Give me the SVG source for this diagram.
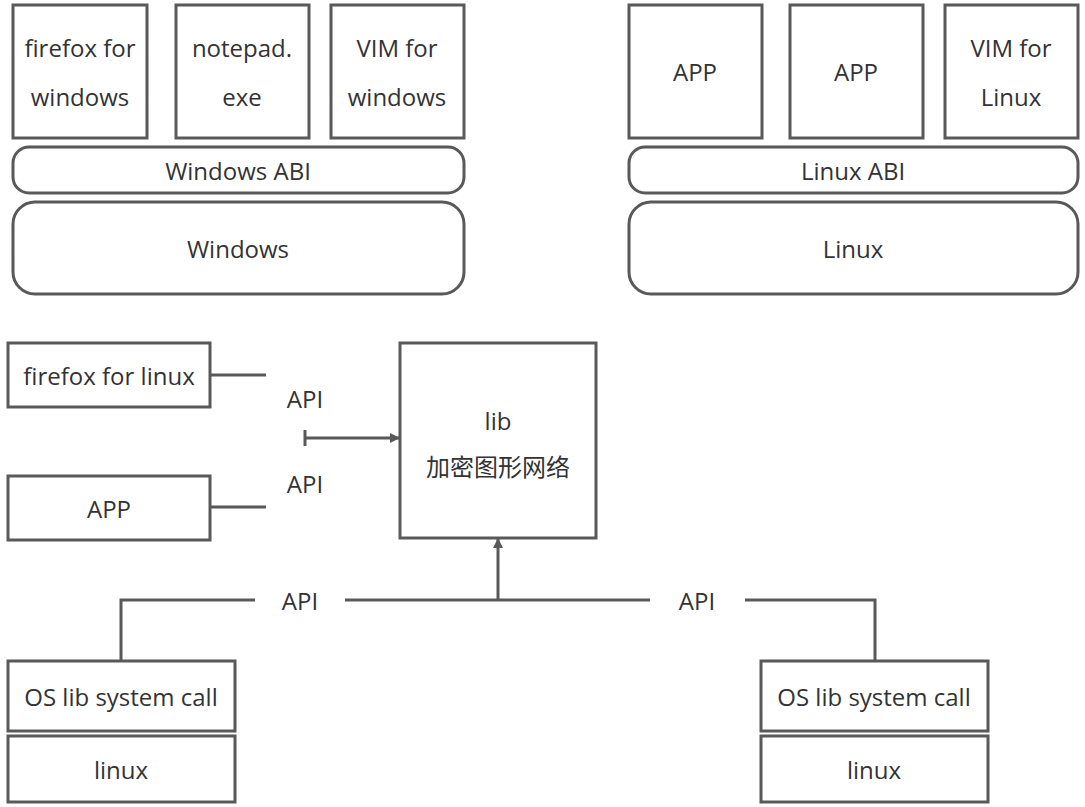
<svg xmlns="http://www.w3.org/2000/svg" width="1085" height="807" viewBox="0 0 1085 807">
<style>
rect{fill:#fff;stroke:#595959;stroke-width:3}
text{font-family:"Open Sans","Noto Sans CJK SC",sans-serif;font-size:24px;fill:#333;text-anchor:middle;dominant-baseline:central}
.c{stroke:#595959;stroke-width:3;fill:none}
</style>
<defs><marker id="a" markerWidth="10" markerHeight="10" refX="9" refY="5" orient="auto" markerUnits="userSpaceOnUse" viewBox="0 0 10 10"><path d="M0,0L10,5L0,10z" fill="#595959"/></marker></defs>
<rect width="1085" height="807" style="stroke:none"/>
<g id="n1"><rect x="13" y="5" width="134" height="133"/><text x="80" y="47">firefox for</text><text x="80" y="96">windows</text></g>
<g id="n2"><rect x="176" y="5" width="133" height="133"/><text x="242" y="47">notepad.</text><text x="242" y="96">exe</text></g>
<g id="n3"><rect x="331" y="5" width="133" height="133"/><text x="397" y="47">VIM for</text><text x="397" y="96">windows</text></g>
<g id="n4"><rect x="13" y="147" width="451" height="46" rx="16"/><text x="238" y="170">Windows ABI</text></g>
<g id="n5"><rect x="13" y="202" width="451" height="92" rx="22"/><text x="238" y="248">Windows</text></g>
<g id="n6"><rect x="629" y="5" width="133" height="133"/><text x="695" y="71">APP</text></g>
<g id="n7"><rect x="790" y="5" width="133" height="133"/><text x="856" y="71">APP</text></g>
<g id="n8"><rect x="945" y="5" width="133" height="133"/><text x="1011" y="47">VIM for</text><text x="1011" y="96">Linux</text></g>
<g id="n9"><rect x="629" y="147" width="449" height="46" rx="16"/><text x="853" y="170">Linux ABI</text></g>
<g id="n10"><rect x="629" y="202" width="449" height="92" rx="22"/><text x="853" y="248">Linux</text></g>
<g id="n11"><rect x="8" y="343" width="202" height="64"/><text x="109" y="375">firefox for linux</text></g>
<g id="n12"><rect x="8" y="476" width="202" height="64"/><text x="109" y="508">APP</text></g>
<g id="n13"><rect x="400" y="343" width="196" height="195"/><text x="498" y="420">lib</text><text x="498" y="466">加密图形网络</text></g>
<g id="n14"><rect x="8" y="661" width="227" height="70"/><text x="121" y="696">OS lib system call</text></g>
<g id="n15"><rect x="8" y="736" width="227" height="66"/><text x="121" y="769">linux</text></g>
<g id="n16"><rect x="761" y="661" width="227" height="70"/><text x="874" y="696">OS lib system call</text></g>
<g id="n17"><rect x="761" y="736" width="227" height="66"/><text x="874" y="769">linux</text></g>
<g id="connectors">
<path class="c" d="M210,375H266M210,507H266M305,430V446"/>
<path class="c" d="M305,438H399" marker-end="url(#a)"/>
<path class="c" d="M121,660V600H255M345,600H650M745,600H875V660"/>
<path class="c" d="M498,600V539" marker-end="url(#a)" style="stroke-width:3"/>
<text x="305" y="398">API</text><text x="305" y="483">API</text>
<text x="300" y="600">API</text><text x="697" y="600">API</text>
</g>
</svg>
